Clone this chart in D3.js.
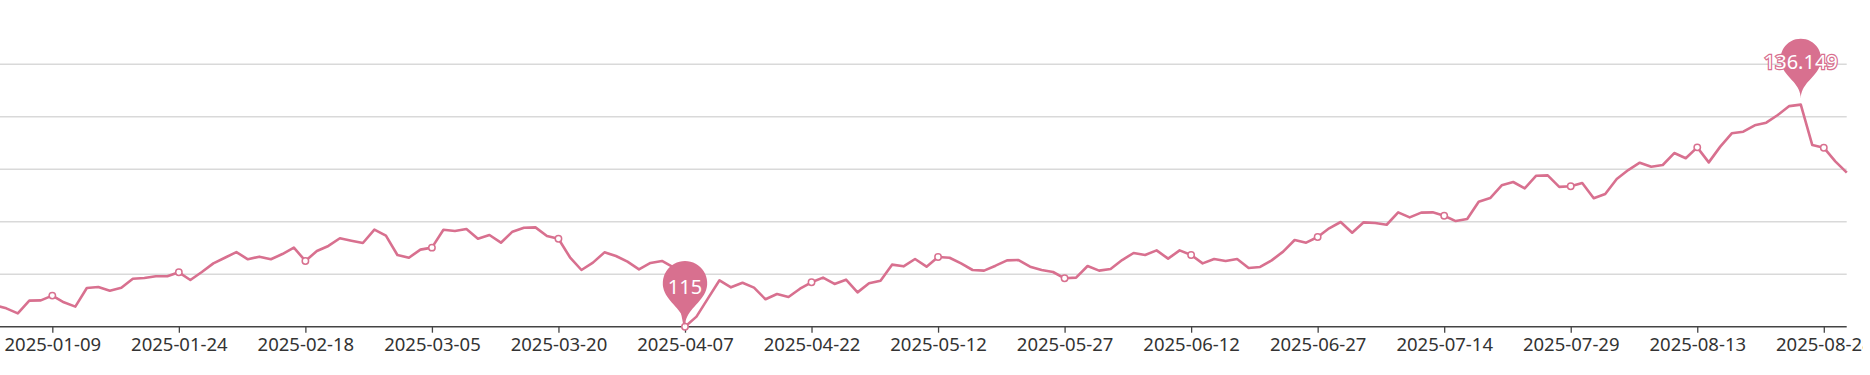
<!DOCTYPE html>
<html>
<head>
<meta charset="utf-8">
<script src="https://cdn.jsdelivr.net/npm/d3@7"></script>
<style>
  body { margin: 0; background: #fff; }
  svg { display: block; font-family: "Noto Sans", sans-serif; }
</style>
</head>
<body>
<svg id="chart" width="1863" height="375"></svg>
<script>
// trading-day closes, one array per month (2025)
const jan = [117.03,116.75,116.27,117.48,117.51,117.96,117.32,116.91,118.69,118.78,118.43,118.71,119.57,119.64,119.80,119.80,120.18,119.45];
const feb = [120.21,121.03,121.57,122.11,121.42,121.67,121.42,121.92,122.53,121.26,122.21,122.69,123.42,123.19,122.97,124.24,123.67,121.83];
const mar = [121.57,122.34,122.53,124.24,124.11,124.30,123.38,123.73,123.00,124.05,124.43,124.46,123.64,123.38,121.61,120.40,121.10,122.08,121.73,121.19,120.46];
const apr = [121.07,121.26,120.65,115.00,115.96,117.70,119.42,118.75,119.19,118.72,117.61,118.11,117.83,118.62,119.23,119.67,119.07,119.48,118.27,119.13,119.38];
const may = [120.91,120.75,121.45,120.72,121.64,121.57,121.03,120.40,120.34,120.81,121.32,121.35,120.72,120.40,120.21,119.61,119.67,120.78,120.34];
const jun = [120.50,121.35,122.02,121.83,122.27,121.48,122.27,121.83,121.03,121.45,121.26,121.45,120.59,120.69,121.32,122.15,123.26,123.00,123.54,124.37];
const jul = [124.97,123.95,124.94,124.87,124.71,125.89,125.41,125.86,125.89,125.57,125.06,125.25,126.90,127.25,128.46,128.78,128.17,129.38,129.41,128.32,128.37,128.69,127.23];
const aug = [127.64,129.07,129.92,130.62,130.24,130.40,131.54,131.04,132.08,130.65,132.15,133.42,133.57,134.18,134.43,135.16,136.01,136.149,132.30,132.05,130.75];
const sep = [129.67];

// exchange holidays on weekdays, 2025
const holidays = ["2025-01-01","2025-01-28","2025-01-29","2025-01-30","2025-01-31","2025-02-03","2025-02-04",
  "2025-04-04","2025-05-01","2025-05-02","2025-05-05","2025-06-02"];
const firstDay = "2025-01-02";
const lastDay = "2025-09-01";
const yTicks = [115, 120, 125, 130, 135, 140];

const fmt = d3.utcFormat("%Y-%m-%d");
const dates = d3.utcDays(new Date(firstDay), d3.utcDay.offset(new Date(lastDay), 1))
  .filter(d => d.getUTCDay() !== 0 && d.getUTCDay() !== 6)
  .map(fmt)
  .filter(d => !holidays.includes(d));
const values = [...jan, ...feb, ...mar, ...apr, ...may, ...jun, ...jul, ...aug, ...sep];
const data = dates.map((d, i) => ({ date: d, value: values[i] }));

const color = "#d8708f";
const svg = d3.select("#chart");

const x = d3.scalePoint()
  .domain(dates)
  .range([-5.2, 1846.8]);

const y = d3.scaleLinear()
  .domain([115, 140])
  .range([326.7, 64.2]);

// label every 11th category, as the chart did
const labelDates = dates.filter((d, i) => i >= 5 && (i - 5) % 11 === 0);

// grid
svg.append("g")
  .selectAll("line")
  .data(yTicks.slice(1))
  .join("line")
  .attr("x1", 0)
  .attr("x2", 1846.7)
  .attr("y1", d => y(d))
  .attr("y2", d => y(d))
  .attr("stroke", "#d9d9d9")
  .attr("stroke-width", 1.5);

// x axis
const xAxis = svg.append("g")
  .attr("transform", `translate(0,${y(115)})`)
  .call(d3.axisBottom(x).tickValues(labelDates).tickSizeOuter(0).tickSize(6));
xAxis.select(".domain").attr("stroke", "#444").attr("stroke-width", 1.5).attr("d", "M0,0H1846.7");
xAxis.selectAll(".tick line").attr("stroke", "#444").attr("stroke-width", 1.3);
xAxis.selectAll("text")
  .attr("y", 18)
  .attr("dy", "0.35em")
  .attr("fill", "#333")
  .attr("font-size", 18.5)
  .attr("font-family", "Noto Sans, sans-serif");

// line
const line = d3.line()
  .x(d => x(d.date))
  .y(d => y(d.value));

svg.append("path")
  .datum(data)
  .attr("d", line)
  .attr("fill", "none")
  .attr("stroke", color)
  .attr("stroke-width", 2.6)
  .attr("stroke-linejoin", "round");

// symbols at labelled points
svg.append("g")
  .selectAll("circle")
  .data(data.filter(d => labelDates.includes(d.date)))
  .join("circle")
  .attr("cx", d => x(d.date))
  .attr("cy", d => y(d.value))
  .attr("r", 3.2)
  .attr("fill", "#fff")
  .attr("stroke", color)
  .attr("stroke-width", 1.5);

// pin shape (tip at px,py)
function pinPath(px, py, r, h) {
  const dy = r * r / (h - r);
  const cy = py - h + r + dy;
  const angle = Math.asin(dy / r);
  const dx = Math.cos(angle) * r;
  const tanX = Math.sin(angle), tanY = Math.cos(angle);
  const cp1 = r * 0.6, cp2 = r * 0.7;
  const p = d3.path();
  p.moveTo(px - dx, cy + dy);
  p.arc(px, cy, r, Math.PI - angle, Math.PI * 2 + angle);
  p.bezierCurveTo(px + dx - tanX * cp1, cy + dy + tanY * cp1, px, py - cp2, px, py);
  p.bezierCurveTo(px, py - cp2, px - dx + tanX * cp1, cy + dy + tanY * cp1, px - dx, cy + dy);
  p.closePath();
  return { d: p.toString(), cy };
}

const iMin = d3.minIndex(values);
const iMax = d3.maxIndex(values);
const marks = [
  { d: data[iMin], r: 22.2, h: 75, lift: 0 },
  { d: data[iMax], r: 20.3, h: 68.5, lift: 6 }
];

const mp = svg.append("g");
marks.forEach(m => {
  const px = x(m.d.date);
  const py = y(m.d.value) - m.lift;
  const pin = pinPath(px, py, m.r, m.h);
  mp.append("path").attr("d", pin.d).attr("fill", color);
  mp.append("text")
    .attr("x", px)
    .attr("y", pin.cy + 3)
    .attr("text-anchor", "middle")
    .attr("dominant-baseline", "central")
    .attr("font-size", 20)
    .attr("fill", "#fff")
    .attr("stroke", color)
    .attr("stroke-width", 2.5)
    .attr("paint-order", "stroke")
    .text(m.d.value);
});
</script>
</body>
</html>
